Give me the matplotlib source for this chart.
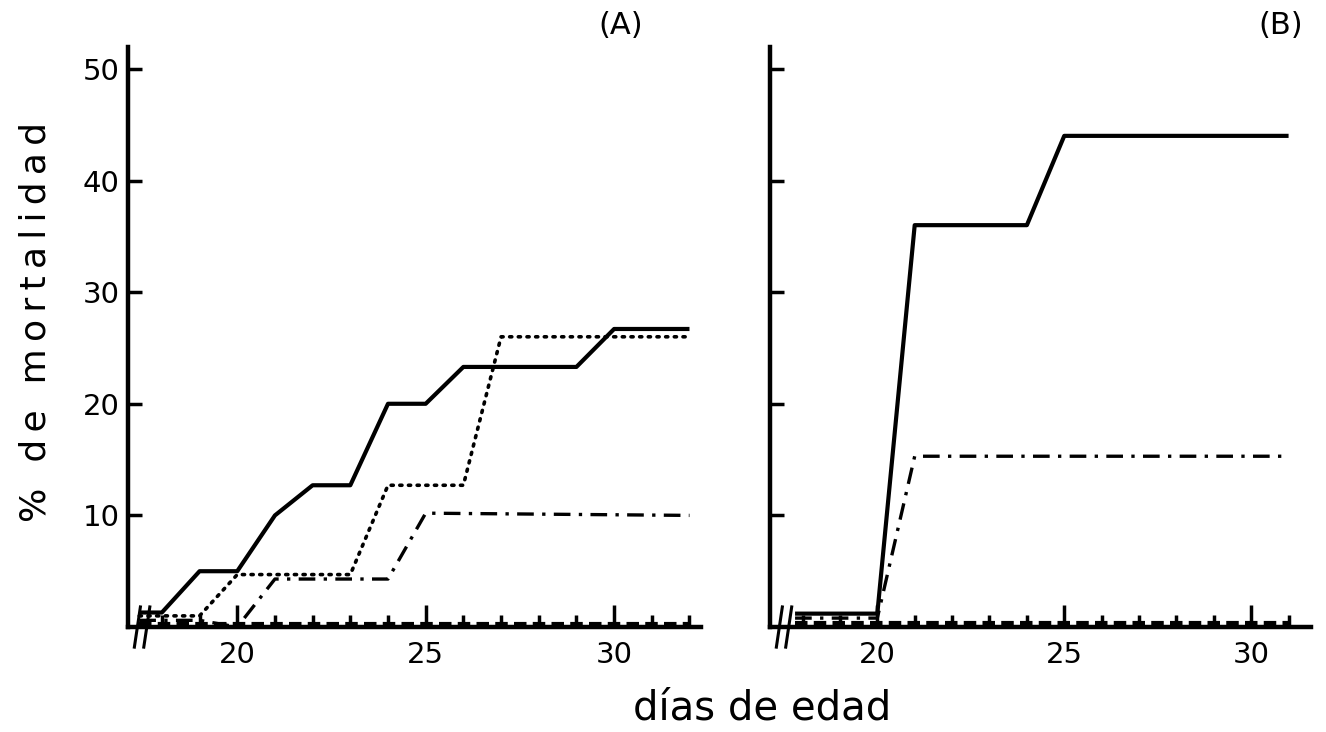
import numpy as np
import matplotlib.pyplot as plt
from matplotlib.ticker import MultipleLocator

# ---- data ----
# panel A
a_solid_x = [17.4, 18, 19, 20, 21, 22, 23, 24, 25, 26, 27, 28, 29, 30, 32]
a_solid_y = [1.3, 1.3, 5.0, 5.0, 10.0, 12.7, 12.7, 20.0, 20.0, 23.3, 23.3, 23.3, 23.3, 26.7, 26.7]
a_dot_x = [17.4, 18, 19, 20, 21, 22, 23, 24, 25, 26, 27, 32]
a_dot_y = [1.0, 1.0, 1.0, 4.7, 4.7, 4.7, 4.7, 12.7, 12.7, 12.7, 26.0, 26.0]
a_dashdot_x = [17.4, 18, 19, 20, 21, 22, 23, 24, 25, 32]
a_dashdot_y = [0.6, 0.6, 0.6, 0.0, 4.3, 4.3, 4.3, 4.3, 10.2, 10.0]
a_dash_x = [17.4, 32]
a_dash_y = [0.3, 0.3]

# panel B
b_solid_x = [17.8, 18, 19, 20, 21, 22, 23, 24, 25, 31]
b_solid_y = [1.2, 1.2, 1.2, 1.2, 36.0, 36.0, 36.0, 36.0, 44.0, 44.0]
b_dashdot_x = [17.8, 18, 19, 20, 21, 31]
b_dashdot_y = [0.8, 0.8, 0.8, 0.8, 15.3, 15.3]
b_dash_x = [17.8, 31]
b_dash_y = [0.4, 0.4]

ylabel = "% de mortalidad"
xlabel = "días de edad"

plt.rcParams['font.family'] = 'DejaVu Sans'

fig = plt.figure(figsize=(13.26, 7.32), dpi=100)
axA = fig.add_axes([0.0965, 0.1434, 0.432, 0.793])
axB = fig.add_axes([0.5807, 0.1434, 0.408, 0.793])

lw = 3.0
axA.plot(a_solid_x, a_solid_y, color="black", lw=lw, solid_capstyle="butt")
axA.plot(a_dot_x, a_dot_y, color="black", lw=2.6, linestyle=(0, (0.6, 1.8)),
         dash_capstyle="round")
axA.plot(a_dashdot_x, a_dashdot_y, color="black", lw=2.4, linestyle=(0, (5, 2.5, 1, 2.5)))
axA.plot(a_dash_x, a_dash_y, color="black", lw=lw, linestyle=(0, (3, 1.5)))

axB.plot(b_solid_x, b_solid_y, color="black", lw=lw, solid_capstyle="butt")
axB.plot(b_dashdot_x, b_dashdot_y, color="black", lw=2.4, linestyle=(0, (5, 2.5, 1, 2.5)))
axB.plot(b_dash_x, b_dash_y, color="black", lw=lw, linestyle=(0, (3, 1.5)))

axA.set_xlim(17.1, 32.3)
axB.set_xlim(17.13, 31.6)

for ax in (axA, axB):
    ax.set_ylim(0, 52)
    ax.spines["top"].set_visible(False)
    ax.spines["right"].set_visible(False)
    ax.spines["left"].set_linewidth(3.2)
    ax.spines["bottom"].set_linewidth(3.2)
    ax.xaxis.set_major_locator(MultipleLocator(5))
    ax.xaxis.set_minor_locator(MultipleLocator(1))
    ax.yaxis.set_major_locator(MultipleLocator(10))
    ax.tick_params(axis="x", which="major", direction="in", length=16, width=2.5,
                   labelsize=21, pad=10)
    ax.tick_params(axis="x", which="minor", direction="in", length=9, width=2.5)
    ax.tick_params(axis="y", which="major", direction="in", length=10, width=2.5,
                   labelsize=21, pad=6)
    ax.set_xticks([20, 25, 30])
    # axis break marks
    for dx in (0.0, 0.25):
        x0 = ax.get_xlim()[0] + 0.25 + dx
        ax.plot([x0 - 0.08, x0 + 0.08], [-1.8, 1.8], color="black", lw=2.2,
                clip_on=False)

axA.set_yticks([10, 20, 30, 40, 50])
axB.set_yticks([10, 20, 30, 40, 50])
axB.set_yticklabels([])

# wide letter spacing like the original lettering
fig.text(0.027, 0.56, "\u2009".join(ylabel), fontsize=26, rotation=90,
         ha="center", va="center")
fig.text(0.575, 0.032, xlabel, fontsize=29, ha="center", va="center")
fig.text(0.468, 0.965, "(A)", fontsize=22, ha="center", va="center")
fig.text(0.966, 0.965, "(B)", fontsize=22, ha="center", va="center")

fig.savefig("out.png", dpi=100)
